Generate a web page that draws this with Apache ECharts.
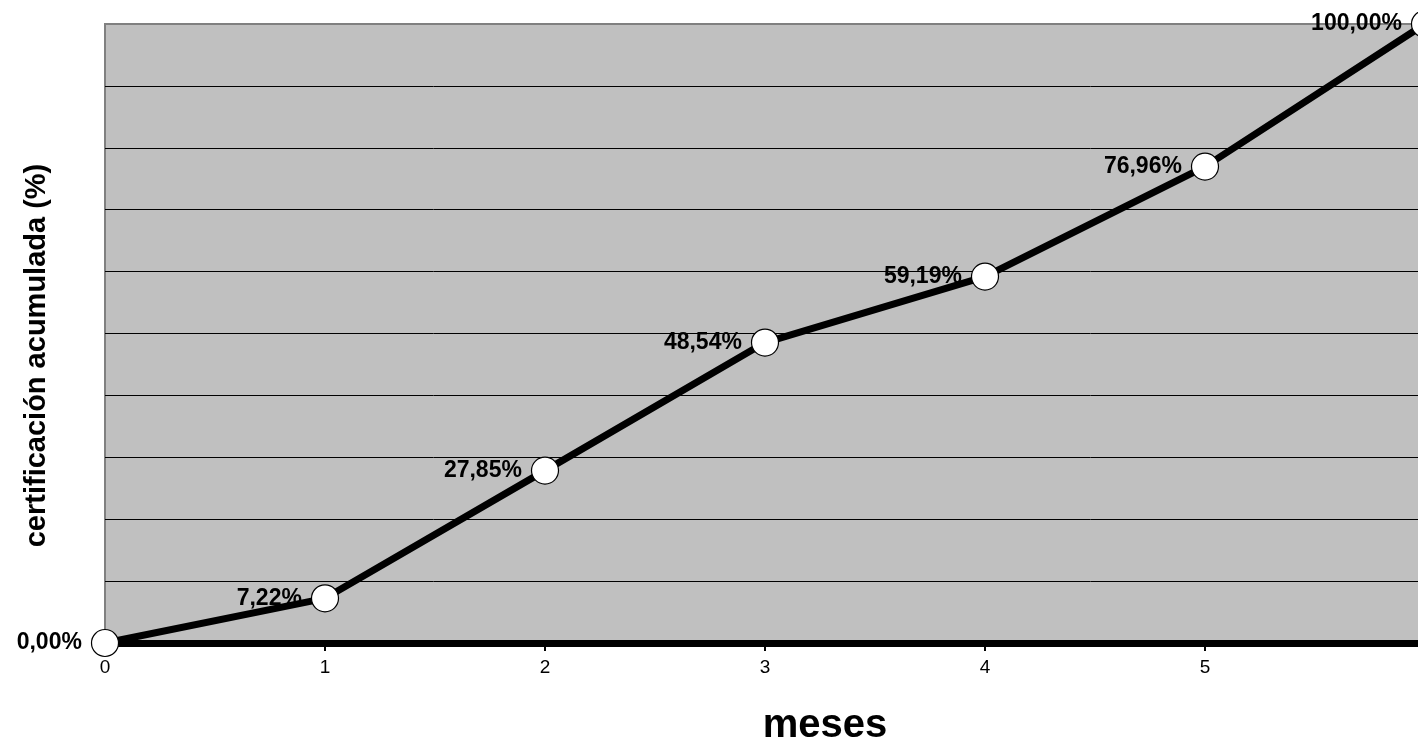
<!DOCTYPE html>
<html>
<head>
<meta charset="utf-8">
<script src="https://cdn.jsdelivr.net/npm/echarts@6/dist/echarts.min.js"></script>
<style>
  html, body { margin: 0; padding: 0; background: #fff; }
  #chart { width: 1418px; height: 738px; }
</style>
</head>
<body>
<div id="chart"></div>
<script>
// meses y certificación acumulada (fracción)
var meses = [0, 1, 2, 3, 4, 5, 6];
var certificacion = [0, 0.0722, 0.2785, 0.4854, 0.5919, 0.7696, 1.0];

var myChart = echarts.init(document.getElementById('chart'));

var puntos = [];
for (var i = 0; i < meses.length; i++) {
  puntos.push([meses[i], certificacion[i]]);
}

// líneas de división: la superior gris como el borde
var coloresDivision = [];
for (var j = 0; j < 10; j++) coloresDivision.push('#000');
coloresDivision.push('#808080');

var option = {
  animation: false,
  backgroundColor: '#ffffff',
  textStyle: { fontFamily: 'Liberation Sans, Arial, sans-serif' },
  grid: {
    left: 105,
    top: 24,
    width: 1320,
    height: 619,
    outerBoundsMode: 'none',
    containLabel: false,
    show: true,
    backgroundColor: '#c0c0c0',
    borderColor: '#808080',
    borderWidth: 2
  },
  xAxis: {
    type: 'value',
    min: 0,
    max: 6,
    interval: 1,
    name: 'meses',
    nameLocation: 'middle',
    nameGap: 63,
    nameTextStyle: { fontSize: 40, fontWeight: 'bold', color: '#000', padding: [0, 0, 0, 120] },
    axisLine: { show: true, onZero: false, lineStyle: { color: '#000', width: 7 } },
    axisTick: { show: true, length: 8, lineStyle: { color: '#000', width: 2 } },
    axisLabel: { fontSize: 19, color: '#000', margin: 15 },
    splitLine: { show: false }
  },
  yAxis: {
    type: 'value',
    min: 0,
    max: 1,
    interval: 0.1,
    name: 'certificación acumulada (%)',
    nameLocation: 'middle',
    nameGap: 54,
    nameTextStyle: { fontSize: 29, fontWeight: 'bold', color: '#000', padding: [0, 44, 0, 0] },
    axisLine: { show: false },
    axisTick: { show: false },
    axisLabel: { show: false },
    splitLine: { show: true, lineStyle: { color: coloresDivision, width: 1 } }
  },
  series: [
    {
      type: 'line',
      data: puntos,
      clip: false,
      symbol: 'circle',
      symbolSize: 27,
      lineStyle: { color: '#000', width: 7 },
      itemStyle: { color: '#fff', borderColor: '#000', borderWidth: 1.2 },
      label: {
        show: true,
        position: 'left',
        distance: 9,
        fontSize: 23,
        fontWeight: 'bold',
        color: '#000',
        formatter: function (p) {
          return (p.value[1] * 100).toFixed(2).replace('.', ',') + '%';
        }
      }
    }
  ]
};

myChart.setOption(option);
</script>
</body>
</html>
